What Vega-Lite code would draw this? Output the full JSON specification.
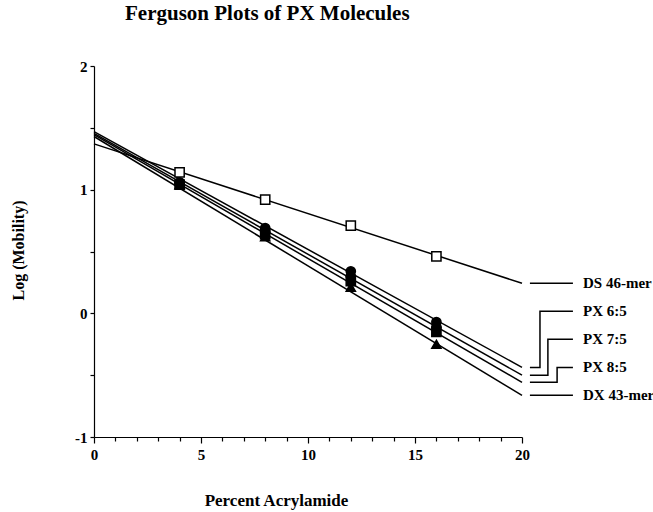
{
  "$schema": "https://vega.github.io/schema/vega-lite/v6.json",
  "width": 428,
  "height": 371,
  "autosize": {"type": "none"},
  "padding": {"left": 94, "top": 66, "right": 131, "bottom": 75},
  "background": "white",
  "title": {
    "text": "Ferguson Plots of PX Molecules",
    "anchor": "start",
    "frame": "group",
    "offset": 35,
    "dx": 31,
    "font": "Liberation Serif",
    "fontSize": 21,
    "fontWeight": "bold",
    "color": "black"
  },
  "config": {
    "view": {"stroke": null},
    "axis": {
      "domainColor": "black",
      "tickColor": "black",
      "labelColor": "black",
      "titleColor": "black",
      "labelFont": "Liberation Serif",
      "labelFontWeight": "bold",
      "labelFontSize": 15,
      "titleFont": "Liberation Serif",
      "titleFontWeight": "bold",
      "grid": false,
      "domainWidth": 1.2,
      "tickWidth": 1.2
    }
  },
  "datasets": {
    "fits": [
      {"series": "DS 46-mer", "x": 0, "y": 1.37},
      {"series": "DS 46-mer", "x": 20, "y": 0.243},
      {"series": "PX 6:5", "x": 0, "y": 1.47},
      {"series": "PX 6:5", "x": 20, "y": -0.437},
      {"series": "PX 7:5", "x": 0, "y": 1.455},
      {"series": "PX 7:5", "x": 20, "y": -0.5},
      {"series": "PX 8:5", "x": 0, "y": 1.445},
      {"series": "PX 8:5", "x": 20, "y": -0.558},
      {"series": "DX 43-mer", "x": 0, "y": 1.43},
      {"series": "DX 43-mer", "x": 20, "y": -0.663}
    ],
    "points": [
      {"series": "DS 46-mer", "x": 4, "y": 1.14},
      {"series": "DS 46-mer", "x": 8, "y": 0.92},
      {"series": "DS 46-mer", "x": 12, "y": 0.71},
      {"series": "DS 46-mer", "x": 16, "y": 0.46},
      {"series": "PX 6:5", "x": 4, "y": 1.06},
      {"series": "PX 6:5", "x": 8, "y": 0.69},
      {"series": "PX 6:5", "x": 12, "y": 0.34},
      {"series": "PX 6:5", "x": 16, "y": -0.07},
      {"series": "PX 7:5", "x": 4, "y": 1.05},
      {"series": "PX 7:5", "x": 8, "y": 0.66},
      {"series": "PX 7:5", "x": 12, "y": 0.3},
      {"series": "PX 7:5", "x": 16, "y": -0.11},
      {"series": "PX 8:5", "x": 4, "y": 1.04},
      {"series": "PX 8:5", "x": 8, "y": 0.64},
      {"series": "PX 8:5", "x": 12, "y": 0.26},
      {"series": "PX 8:5", "x": 16, "y": -0.15},
      {"series": "DX 43-mer", "x": 4, "y": 1.04},
      {"series": "DX 43-mer", "x": 8, "y": 0.62},
      {"series": "DX 43-mer", "x": 12, "y": 0.21},
      {"series": "DX 43-mer", "x": 16, "y": -0.25}
    ],
    "connectors": [
      {"series": "DS 46-mer", "k": 1, "x": 20.37, "y": 0.2425},
      {"series": "DS 46-mer", "k": 2, "x": 22.38, "y": 0.2425},
      {"series": "PX 6:5", "k": 1, "x": 20.37, "y": -0.437},
      {"series": "PX 6:5", "k": 2, "x": 20.84, "y": -0.437},
      {"series": "PX 6:5", "k": 3, "x": 20.84, "y": 0.016},
      {"series": "PX 6:5", "k": 4, "x": 22.38, "y": 0.016},
      {"series": "PX 7:5", "k": 1, "x": 20.37, "y": -0.5},
      {"series": "PX 7:5", "k": 2, "x": 21.21, "y": -0.5},
      {"series": "PX 7:5", "k": 3, "x": 21.21, "y": -0.21},
      {"series": "PX 7:5", "k": 4, "x": 22.38, "y": -0.21},
      {"series": "PX 8:5", "k": 1, "x": 20.37, "y": -0.558},
      {"series": "PX 8:5", "k": 2, "x": 21.64, "y": -0.558},
      {"series": "PX 8:5", "k": 3, "x": 21.64, "y": -0.437},
      {"series": "PX 8:5", "k": 4, "x": 22.38, "y": -0.437},
      {"series": "DX 43-mer", "k": 1, "x": 20.37, "y": -0.663},
      {"series": "DX 43-mer", "k": 2, "x": 22.38, "y": -0.663}
    ],
    "labels": [
      {"series": "DS 46-mer", "x": 22.85, "y": 0.2425},
      {"series": "PX 6:5", "x": 22.85, "y": 0.016},
      {"series": "PX 7:5", "x": 22.85, "y": -0.21},
      {"series": "PX 8:5", "x": 22.85, "y": -0.437},
      {"series": "DX 43-mer", "x": 22.85, "y": -0.663}
    ]
  },
  "encoding": {
    "x": {
      "field": "x", "type": "quantitative",
      "scale": {"domain": [0, 20], "nice": false, "zero": false},
      "axis": {
        "title": "Percent Acrylamide",
        "titleFontSize": 17,
        "values": [0,1,2,3,4,5,6,7,8,9,10,11,12,13,14,15,16,17,18,19,20],
        "labelExpr": "datum.value % 5 === 0 ? toString(datum.value) : ''",
        "tickSize": {"condition": {"test": "datum.value % 5 === 0", "value": 6}, "value": 4},
        "labelPadding": 4,
        "titleX": 182,
        "titleY": 68,
        "titleAlign": "center",
        "titleBaseline": "alphabetic",
        "labelFlush": false,
        "labelOverlap": false
      }
    },
    "y": {
      "field": "y", "type": "quantitative",
      "scale": {"domain": [-1, 2], "nice": false, "zero": false},
      "axis": {
        "title": "Log (Mobility)",
        "titleFontSize": 16,
        "values": [-1, -0.5, 0, 0.5, 1, 1.5, 2],
        "labelExpr": "datum.value % 1 === 0 ? toString(datum.value) : ''",
        "tickSize": 4,
        "labelPadding": 3,
        "titleX": -76,
        "titleY": 184,
        "titleAngle": -90,
        "titleAlign": "center",
        "titleBaseline": "middle",
        "labelFlush": false,
        "labelOverlap": false
      }
    }
  },
  "layer": [
    {
      "data": {"name": "fits"},
      "mark": {"type": "line", "color": "black", "strokeWidth": 1.5, "clip": false},
      "encoding": {
        "detail": {"field": "series"}
      }
    },
    {
      "data": {"name": "points"},
      "mark": {"type": "point", "filled": true, "stroke": "black", "strokeWidth": 1.5, "size": 85, "opacity": 1},
      "encoding": {
        "shape": {
          "field": "series", "type": "nominal", "legend": null,
          "scale": {"domain": ["DS 46-mer", "PX 6:5", "PX 7:5", "PX 8:5", "DX 43-mer"],
                    "range": ["square", "circle", "circle", "square", "triangle-up"]}
        },
        "fill": {
          "field": "series", "type": "nominal", "legend": null,
          "scale": {"domain": ["DS 46-mer", "PX 6:5", "PX 7:5", "PX 8:5", "DX 43-mer"],
                    "range": ["white", "black", "black", "black", "black"]}
        }
      }
    },
    {
      "data": {"name": "connectors"},
      "mark": {"type": "line", "color": "black", "strokeWidth": 1.5, "clip": false},
      "encoding": {
        "detail": {"field": "series"},
        "order": {"field": "k", "type": "quantitative"}
      }
    },
    {
      "data": {"name": "labels"},
      "mark": {"type": "text", "align": "left", "baseline": "middle", "font": "Liberation Serif", "fontWeight": "bold", "fontSize": 15, "color": "black", "clip": false},
      "encoding": {
        "text": {"field": "series"}
      }
    }
  ]
}
